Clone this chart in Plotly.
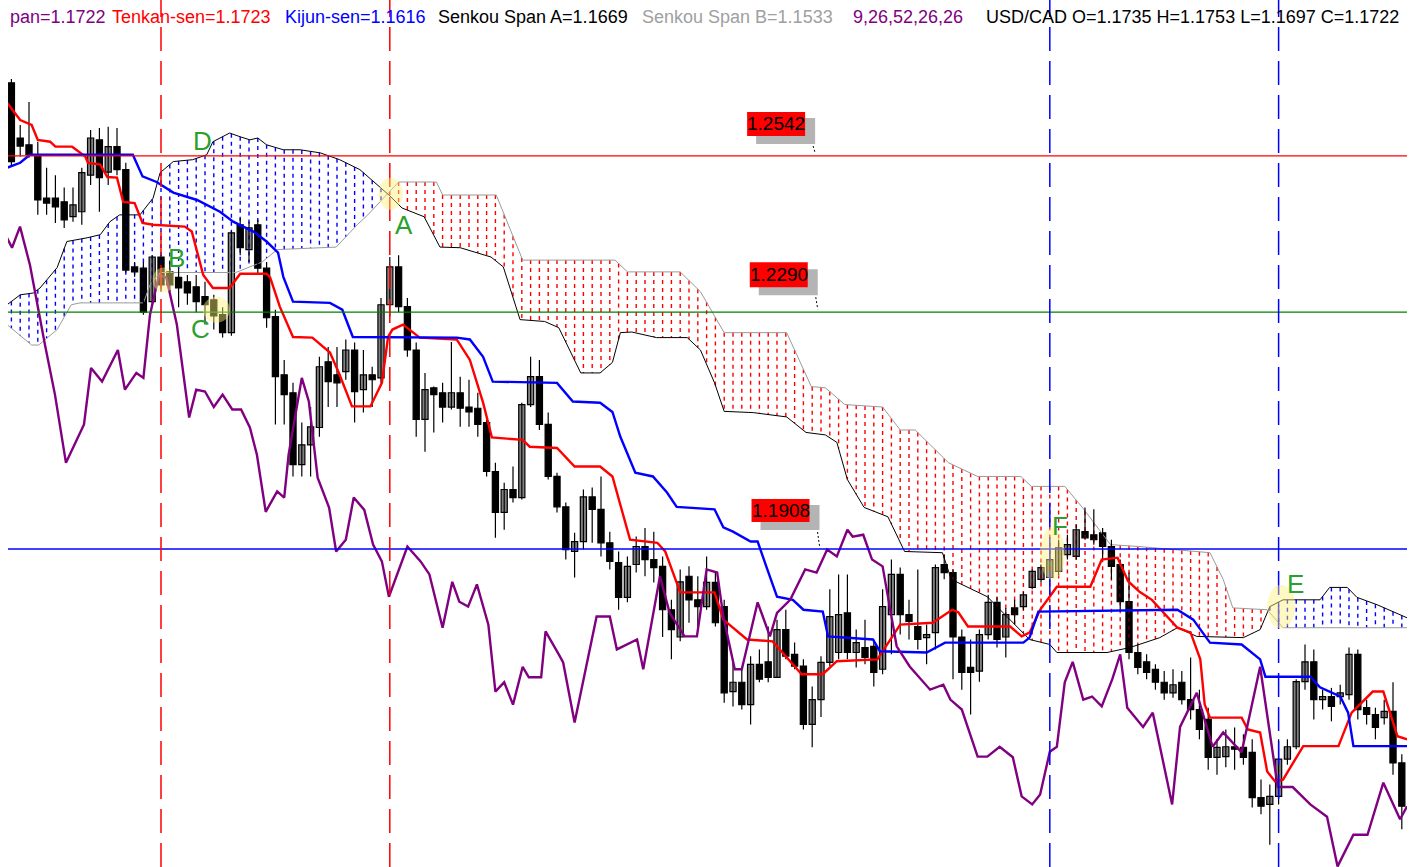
import numpy as np
import plotly.graph_objects as go

# ---------------- data ----------------
bars = list(range(159))

opens = [1.2660, 1.2571, 1.2560, 1.2544, 1.2474, 1.2474, 1.2468, 1.2444, 1.2452, 1.2511,
         1.2568, 1.2516, 1.2557, 1.2520, 1.2363, 1.2361, 1.2307, 1.2379, 1.2355, 1.2346,
         1.2339, 1.2331, 1.2315, 1.2310, 1.2286, 1.2257, 1.2431, 1.2391, 1.2431, 1.2361,
         1.2283, 1.2189, 1.2160, 1.2044, 1.2076, 1.2104, 1.2210, 1.2189, 1.2194, 1.2229,
         1.2165, 1.2189, 1.2184, 1.2302, 1.2363, 1.2299, 1.2229, 1.2117, 1.2168, 1.2160,
         1.2137, 1.2160, 1.2137, 1.2135, 1.2112, 1.2033, 1.1967, 1.2004, 1.1991, 1.2141,
         1.2186, 1.2109, 1.2025, 1.1976, 1.1904, 1.1920, 1.1992, 1.1972, 1.1918, 1.1886,
         1.1830, 1.1883, 1.1912, 1.1891, 1.1880, 1.1810, 1.1766, 1.1864, 1.1826, 1.1815,
         1.1854, 1.1815, 1.1678, 1.1693, 1.1657, 1.1722, 1.1726, 1.1701, 1.1778, 1.1738,
         1.1719, 1.1625, 1.1665, 1.1725, 1.1741, 1.1805, 1.1741, 1.1749, 1.1751, 1.1714,
         1.1802, 1.1867, 1.1802, 1.1783, 1.1765, 1.1773, 1.1883, 1.1870, 1.1766, 1.1717,
         1.1711, 1.1770, 1.1822, 1.1766, 1.1813, 1.1815, 1.1846, 1.1859, 1.1862, 1.1872,
         1.1899, 1.1896, 1.1936, 1.1931, 1.1934, 1.1912, 1.1883, 1.1823, 1.1741, 1.1726,
         1.1714, 1.1693, 1.1676, 1.1693, 1.1665, 1.1649, 1.1633, 1.1572, 1.1573, 1.1589,
         1.1588, 1.1580, 1.1507, 1.1496, 1.1509, 1.1569, 1.1589, 1.1694, 1.1726, 1.1665,
         1.1670, 1.1670, 1.1673, 1.1738, 1.1652, 1.1641, 1.1636, 1.1646, 1.1563]

highs = [1.2666, 1.2592, 1.2629, 1.2565, 1.2523, 1.2511, 1.2491, 1.2491, 1.2523, 1.2584,
         1.2587, 1.2589, 1.2587, 1.2531, 1.2371, 1.2371, 1.2382, 1.2382, 1.2371, 1.2361,
         1.2350, 1.2350, 1.2339, 1.2318, 1.2298, 1.2421, 1.2442, 1.2436, 1.2439, 1.2371,
         1.2294, 1.2213, 1.2176, 1.2112, 1.2137, 1.2218, 1.2234, 1.2234, 1.2246, 1.2241,
         1.2229, 1.2202, 1.2313, 1.2379, 1.2382, 1.2313, 1.2241, 1.2192, 1.2170, 1.2176,
         1.2242, 1.2186, 1.2181, 1.2160, 1.2117, 1.2047, 1.2015, 1.2041, 1.2144, 1.2218,
         1.2213, 1.2128, 1.2031, 1.1983, 1.1934, 1.2004, 1.2007, 1.2025, 1.1936, 1.1904,
         1.1896, 1.1928, 1.1942, 1.1936, 1.1896, 1.1826, 1.1875, 1.1880, 1.1864, 1.1896,
         1.1870, 1.1826, 1.1725, 1.1714, 1.1735, 1.1746, 1.1783, 1.1794, 1.1810, 1.1757,
         1.1730, 1.1686, 1.1735, 1.1843, 1.1867, 1.1867, 1.1778, 1.1794, 1.1762, 1.1843,
         1.1891, 1.1878, 1.1826, 1.1875, 1.1786, 1.1883, 1.1899, 1.1875, 1.1778, 1.1762,
         1.1778, 1.1834, 1.1830, 1.1813, 1.1826, 1.1839, 1.1875, 1.1883, 1.1907, 1.1923,
         1.1931, 1.1947, 1.1975, 1.1972, 1.1942, 1.1923, 1.1891, 1.1870, 1.1754, 1.1738,
         1.1722, 1.1711, 1.1714, 1.1711, 1.1733, 1.1681, 1.1652, 1.1601, 1.1617, 1.1620,
         1.1609, 1.1601, 1.1536, 1.1528, 1.1601, 1.1601, 1.1698, 1.1754, 1.1746, 1.1681,
         1.1684, 1.1689, 1.1749, 1.1746, 1.1665, 1.1652, 1.1665, 1.1693, 1.1577]

lows = [1.2526, 1.2541, 1.2539, 1.2447, 1.2447, 1.2434, 1.2426, 1.2436, 1.2431, 1.2495,
        1.2452, 1.2495, 1.2511, 1.2354, 1.2347, 1.2286, 1.2299, 1.2323, 1.2323, 1.2298,
        1.2302, 1.2290, 1.2270, 1.2262, 1.2249, 1.2252, 1.2382, 1.2371, 1.2350, 1.2265,
        1.2109, 1.2109, 1.2025, 1.2025, 1.2025, 1.2089, 1.2137, 1.2137, 1.2181, 1.2112,
        1.2128, 1.2137, 1.2176, 1.2283, 1.2290, 1.2218, 1.2089, 1.2065, 1.2096, 1.2112,
        1.2133, 1.2105, 1.2105, 1.2089, 1.2025, 1.1926, 1.1939, 1.1983, 1.1988, 1.2137,
        1.2100, 1.2020, 1.1967, 1.1891, 1.1862, 1.1907, 1.1918, 1.1896, 1.1875, 1.1810,
        1.1822, 1.1870, 1.1864, 1.1854, 1.1766, 1.1730, 1.1759, 1.1789, 1.1778, 1.1810,
        1.1783, 1.1660, 1.1654, 1.1649, 1.1625, 1.1693, 1.1693, 1.1700, 1.1730, 1.1714,
        1.1617, 1.1588, 1.1637, 1.1719, 1.1730, 1.1730, 1.1717, 1.1722, 1.1686, 1.1706,
        1.1738, 1.1770, 1.1762, 1.1746, 1.1722, 1.1746, 1.1859, 1.1698, 1.1681, 1.1641,
        1.1694, 1.1762, 1.1749, 1.1733, 1.1786, 1.1810, 1.1843, 1.1854, 1.1855, 1.1866,
        1.1891, 1.1891, 1.1923, 1.1915, 1.1891, 1.1859, 1.1807, 1.1730, 1.1706, 1.1698,
        1.1681, 1.1665, 1.1668, 1.1657, 1.1633, 1.1601, 1.1552, 1.1544, 1.1556, 1.1552,
        1.1560, 1.1491, 1.1480, 1.1431, 1.1496, 1.1560, 1.1585, 1.1681, 1.1633, 1.1649,
        1.1630, 1.1657, 1.1665, 1.1633, 1.1625, 1.1601, 1.1625, 1.1544, 1.1456]

closes = [1.2533, 1.2558, 1.2544, 1.2471, 1.2466, 1.2460, 1.2439, 1.2463, 1.2515, 1.2571,
          1.2507, 1.2557, 1.2520, 1.2358, 1.2355, 1.2290, 1.2379, 1.2334, 1.2334, 1.2329,
          1.2321, 1.2307, 1.2302, 1.2284, 1.2257, 1.2418, 1.2394, 1.2426, 1.2361, 1.2281,
          1.2186, 1.2157, 1.2044, 1.2076, 1.2105, 1.2202, 1.2178, 1.2176, 1.2229, 1.2162,
          1.2189, 1.2181, 1.2302, 1.2363, 1.2299, 1.2229, 1.2117, 1.2165, 1.2157, 1.2137,
          1.2160, 1.2135, 1.2129, 1.2109, 1.2033, 1.1967, 1.2004, 1.1991, 1.2141, 1.2186,
          1.2109, 1.2025, 1.1976, 1.1907, 1.1920, 1.1992, 1.1972, 1.1918, 1.1888, 1.1830,
          1.1880, 1.1912, 1.1891, 1.1878, 1.1810, 1.1778, 1.1855, 1.1826, 1.1815, 1.1854,
          1.1789, 1.1676, 1.1693, 1.1657, 1.1722, 1.1698, 1.1701, 1.1778, 1.1735, 1.1719,
          1.1625, 1.1665, 1.1725, 1.1799, 1.1802, 1.1741, 1.1757, 1.1733, 1.1709, 1.1815,
          1.1867, 1.1802, 1.1791, 1.1762, 1.1770, 1.1878, 1.1870, 1.1766, 1.1709, 1.1709,
          1.1770, 1.1822, 1.1762, 1.1802, 1.1802, 1.1834, 1.1872, 1.1878, 1.1891, 1.1910,
          1.1915, 1.1939, 1.1926, 1.1923, 1.1912, 1.1880, 1.1823, 1.1741, 1.1717, 1.1709,
          1.1693, 1.1676, 1.1689, 1.1665, 1.1649, 1.1617, 1.1572, 1.1588, 1.1589, 1.1585,
          1.1572, 1.1507, 1.1493, 1.1509, 1.1569, 1.1589, 1.1694, 1.1726, 1.1665, 1.1670,
          1.1654, 1.1676, 1.1738, 1.1649, 1.1641, 1.1620, 1.1646, 1.1563, 1.1493]

tenkan_x = [-0.5, 1.0, 2.3, 3.0, 4.4, 5.0, 6.9, 8.4, 8.7, 10.1, 10.9, 12.0, 12.7, 14.0, 14.9,
            16.1, 19.7, 20.5, 21.8, 22.9, 24.8, 26.0, 29.0, 29.4, 30.5, 32.0, 34.2, 36.2, 37.3,
            38.7, 40.8, 42.1, 42.8, 43.3, 44.5, 46.4, 50.6, 52.1, 53.6, 54.6, 58.1, 58.9, 62.0,
            64.0, 66.9, 68.3, 70.3, 73.4, 74.3, 76.0, 79.9, 80.9, 83.6, 86.5, 89.8, 92.2, 93.8,
            98.4, 101.0, 104.7, 106.9, 107.6, 108.7, 113.5, 114.8, 115.7, 116.9, 118.8, 122.6,
            123.9, 125.7, 126.9, 128.2, 129.6, 132.5, 134.0, 135.1, 135.6, 136.2, 139.8, 140.5,
            141.9, 142.7, 143.6, 144.5, 146.8, 150.8, 152.3, 154.7, 155.9, 157.5, 158.6]
tenkan_y = [1.2628, 1.2600, 1.2592, 1.2568, 1.2565, 1.2557, 1.2557, 1.2541, 1.2531, 1.2528,
            1.2508, 1.2507, 1.2468, 1.2466, 1.2434, 1.2431, 1.2428, 1.2420, 1.2350, 1.2329,
            1.2329, 1.2352, 1.2352, 1.2346, 1.2299, 1.2250, 1.2249, 1.2225, 1.2189, 1.2138,
            1.2138, 1.2176, 1.2250, 1.2262, 1.2270, 1.2249, 1.2246, 1.2213, 1.2144, 1.2088,
            1.2084, 1.2073, 1.2071, 1.2041, 1.2041, 1.2025, 1.1923, 1.1918, 1.1904, 1.1838,
            1.1838, 1.1794, 1.1762, 1.1759, 1.1706, 1.1706, 1.1727, 1.1730, 1.1786, 1.1789,
            1.1810, 1.1806, 1.1783, 1.1783, 1.1767, 1.1773, 1.1810, 1.1847, 1.1847, 1.1891,
            1.1894, 1.1856, 1.1839, 1.1826, 1.1781, 1.1773, 1.1730, 1.1657, 1.1636, 1.1636,
            1.1617, 1.1612, 1.1549, 1.1533, 1.1536, 1.1590, 1.1590, 1.1644, 1.1678, 1.1678,
            1.1606, 1.1601]

kijun_x = [-0.5, 1.0, 2.1, 13.8, 14.9, 16.5, 18.4, 21.1, 23.7, 25.2,
           27.5, 29.0, 30.3, 30.9, 32.0, 36.2, 37.6, 38.8, 50.6, 52.1,
           53.6, 54.7, 62.0, 63.8, 66.9, 68.3, 69.2, 70.9, 72.9, 74.5,
           75.6, 79.9, 80.9, 82.0, 84.0, 84.8, 85.9, 87.0, 88.8, 90.0,
           92.2, 92.8, 97.9, 98.7, 104.0, 106.1, 115.0, 115.7, 116.7, 132.5,
           134.3, 136.2, 139.8, 141.9, 142.5, 147.6, 148.7, 151.0, 151.9, 152.5, 158.6]
kijun_y = [1.2523, 1.2531, 1.2544, 1.2544, 1.2509, 1.2500, 1.2483, 1.2471, 1.2452, 1.2436,
           1.2420, 1.2404, 1.2386, 1.2347, 1.2307, 1.2305, 1.2294, 1.2250, 1.2249, 1.2246,
           1.2218, 1.2178, 1.2176, 1.2146, 1.2144, 1.2129, 1.2089, 1.2031, 1.2025, 1.1999,
           1.1976, 1.1972, 1.1943, 1.1936, 1.1920, 1.1920, 1.1875, 1.1831, 1.1826, 1.1810,
           1.1807, 1.1767, 1.1762, 1.1743, 1.1741, 1.1757, 1.1757, 1.1765, 1.1807, 1.1810,
           1.1794, 1.1757, 1.1754, 1.1730, 1.1702, 1.1702, 1.1685, 1.1670, 1.1644, 1.1590, 1.1590]

chikou_x = [-0.5, 0.07, 0.98, 2.11, 3.82, 4.95, 6.2, 8.25, 9.05, 10.3,
            12.1, 12.9, 14.2, 15.0, 15.75, 16.77, 17.6, 18.8, 20.2, 21.0,
            22.0, 23.0, 24.0, 25.1, 26.1, 27.1, 27.9, 28.9, 30.2, 31.0,
            31.5, 33.0, 33.8, 34.8, 36.1, 36.9, 38.0, 38.9, 40.1, 41.1,
            42.1, 42.9, 45.0, 46.5, 47.5, 49.0, 50.1, 50.9, 51.9, 52.9,
            54.2, 55.0, 56.0, 57.0, 58.1, 58.8, 60.2, 60.7, 62.2, 62.7,
            64.0, 66.5, 68.0, 68.8, 71.1, 71.8, 73.7, 74.8, 76.5, 77.9,
            79.0, 80.2, 80.9, 82.2, 83.0, 84.8, 86.2, 87.0, 88.5, 90.2,
            91.5, 92.7, 93.8, 95.0, 95.6, 96.8, 97.8, 99.0, 100.6, 102.1,
            104.4, 105.9, 106.7, 108.0, 109.8, 110.9, 112.3, 113.8, 114.8, 116.0,
            116.9, 118.0, 118.8, 119.7, 120.6, 121.8, 122.8, 123.9, 125.1, 126.0,
            126.8, 128.6, 129.7, 131.9, 132.8, 134.7, 136.5, 137.7, 139.8, 141.9,
            143.9, 145.6, 147.6, 149.5, 150.7, 152.5, 154.1, 155.9, 157.8, 158.6]
chikou_y = [1.2410, 1.2394, 1.2428, 1.2366, 1.2237, 1.2157, 1.2047, 1.2109, 1.2200, 1.2178,
            1.2229, 1.2165, 1.2192, 1.2184, 1.2286, 1.2350, 1.2346, 1.2270, 1.2120, 1.2165,
            1.2162, 1.2137, 1.2157, 1.2133, 1.2133, 1.2104, 1.2060, 1.1968, 1.2001, 1.1991,
            1.2060, 1.2184, 1.2146, 1.2023, 1.1975, 1.1904, 1.1923, 1.1991, 1.1971, 1.1915,
            1.1888, 1.1831, 1.1912, 1.1888, 1.1867, 1.1781, 1.1855, 1.1823, 1.1815, 1.1851,
            1.1786, 1.1678, 1.1693, 1.1657, 1.1718, 1.1701, 1.1701, 1.1775, 1.1738, 1.1725,
            1.1628, 1.1799, 1.1799, 1.1746, 1.1762, 1.1714, 1.1864, 1.1805, 1.1767, 1.1767,
            1.1875, 1.1870, 1.1799, 1.1714, 1.1714, 1.1822, 1.1767, 1.1805, 1.1826, 1.1875,
            1.1870, 1.1907, 1.1896, 1.1939, 1.1928, 1.1931, 1.1891, 1.1880, 1.1751, 1.1718,
            1.1681, 1.1689, 1.1665, 1.1649, 1.1573, 1.1573, 1.1589, 1.1572, 1.1509, 1.1496,
            1.1512, 1.1581, 1.1589, 1.1693, 1.1726, 1.1665, 1.1670, 1.1654, 1.1698, 1.1738,
            1.1652, 1.1621, 1.1644, 1.1496, 1.1621, 1.1676, 1.1589, 1.1612, 1.1580, 1.1718,
            1.1524, 1.1524, 1.1496, 1.1476, 1.1396, 1.1447, 1.1447, 1.1531, 1.1472, 1.1493]

span_a_x = [-0.5, 1.0, 2.5, 3.25, 5.2, 6.3, 8.6, 10.1, 11.2, 12.3,
            14.6, 16.1, 16.9, 18.4, 20.6, 22.2, 22.9, 24.8, 26.0, 27.1,
            28.0, 29.0, 30.9, 32.8, 35.1, 37.3, 39.6, 41.0, 41.9, 42.9,
            44.4, 46.9, 48.7, 51.0, 54.5, 55.9, 57.8, 60.6, 62.2, 64.7,
            66.9, 68.3, 69.2, 70.5, 73.3, 76.8, 78.3, 79.9, 81.0, 84.3,
            88.1, 90.3, 92.5, 93.8, 95.0, 96.9, 99.6, 101.5, 105.8, 106.8,
            110.9, 115.7, 118.0, 118.8, 124.5, 127.1, 130.5, 132.5, 134.7, 140.0,
            141.9, 143.0, 144.5, 148.7, 149.8, 151.8, 152.9, 155.2, 158.6]
span_a_y = [1.2302, 1.2318, 1.2321, 1.2329, 1.2362, 1.2404, 1.2410, 1.2415, 1.2436, 1.2447,
            1.2447, 1.2474, 1.2515, 1.2533, 1.2536, 1.2544, 1.2565, 1.2579, 1.2573, 1.2568,
            1.2571, 1.2560, 1.2552, 1.2552, 1.2547, 1.2536, 1.2520, 1.2503, 1.2491, 1.2479,
            1.2458, 1.2444, 1.2395, 1.2394, 1.2379, 1.2363, 1.2278, 1.2275, 1.2265, 1.2192,
            1.2192, 1.2209, 1.2257, 1.2258, 1.2249, 1.2249, 1.2229, 1.2176, 1.2130, 1.2128,
            1.2121, 1.2096, 1.2092, 1.2080, 1.2020, 1.1975, 1.1960, 1.1904, 1.1902, 1.1859,
            1.1831, 1.1762, 1.1754, 1.1741, 1.1741, 1.1749, 1.1765, 1.1781, 1.1767, 1.1765,
            1.1778, 1.1815, 1.1826, 1.1826, 1.1846, 1.1846, 1.1830, 1.1818, 1.1797]

span_b_x = [-0.5, 2.3, 3.1, 5.2, 6.8, 7.8, 15.0, 15.75, 16.9, 25.5,
            28.5, 30.2, 36.9, 39.3, 40.5, 41.9, 42.9, 44.0, 48.3, 49.0,
            55.1, 58.1, 68.6, 70.0, 76.0, 78.3, 81.0, 88.1, 90.9, 92.5,
            94.7, 99.0, 101.0, 102.7, 106.5, 109.8, 114.7, 115.9, 119.7, 121.7,
            124.9, 128.1, 136.2, 137.7, 138.8, 142.7, 144.5, 158.6]
span_b_y = [1.2270, 1.2237, 1.2237, 1.2262, 1.2302, 1.2305, 1.2305, 1.2334, 1.2354, 1.2354,
            1.2371, 1.2391, 1.2395, 1.2431, 1.2447, 1.2468, 1.2484, 1.2500, 1.2500, 1.2479,
            1.2479, 1.2374, 1.2374, 1.2355, 1.2355, 1.2323, 1.2257, 1.2257, 1.2170, 1.2168,
            1.2141, 1.2137, 1.2100, 1.2100, 1.2047, 1.2025, 1.2025, 1.2009, 1.2009, 1.1975,
            1.1915, 1.1912, 1.1902, 1.1859, 1.1813, 1.1810, 1.1781, 1.1781]

levels = [1.2542, 1.2290, 1.1908]
level_colors = ["#ff0000", "#008000", "#0000ff"]
level_label_bar = [86.9, 87.2, 87.4]

red_marker_bars = [17, 43]
blue_marker_bars = [118, 144]

point_labels = ["A", "B", "C", "D", "E", "F"]
point_label_x = [44.6, 18.8, 21.5, 21.7, 145.9, 119.2]
point_label_y = [1.2431, 1.2377, 1.2263, 1.2566, 1.1852, 1.1945]

highlight_x = [43.1, 17.3, 23.3, 144.3, 118.3]
highlight_y = [1.2481, 1.2342, 1.2294, 1.1815, 1.1900]
highlight_w = [24, 22, 27, 28, 25]
highlight_h = [32, 25, 26, 44, 52]

header_parts = ["pan=1.1722", "Tenkan-sen=1.1723", "Kijun-sen=1.1616",
                "Senkou Span A=1.1669", "Senkou Span B=1.1533", "9,26,52,26,26",
                "USD/CAD O=1.1735 H=1.1753 L=1.1697 C=1.1722"]
header_colors = ["#800080", "#ff0000", "#0000ff", "#000000", "#a0a0a0", "#800080", "#000000"]
header_pos = [0.0, 0.0729, 0.1966, 0.3059, 0.4518, 0.6026, 0.6976]

# ---------------- figure ----------------
FONT = "Liberation Sans, Arial, sans-serif"
fig = go.Figure()

# cloud hatch (vertical dashed strokes at each bar between the spans)
hb_x, hb_y, hr_x, hr_y = [], [], [], []
for b in bars:
    a = float(np.interp(b, span_a_x, span_a_y))
    s = float(np.interp(b, span_b_x, span_b_y))
    top, bot = max(a, s), min(a, s)
    if a > s:
        hb_x += [b, b, None]; hb_y += [top, bot, None]
    else:
        hr_x += [b, b, None]; hr_y += [top, bot, None]

fig.add_trace(go.Scatter(x=hb_x, y=hb_y, mode="lines", hoverinfo="skip",
                         line=dict(color="#0000ff", width=1.4, dash="4px,4px")))
fig.add_trace(go.Scatter(x=hr_x, y=hr_y, mode="lines", hoverinfo="skip",
                         line=dict(color="#ff0000", width=1.4, dash="4px,4px")))

fig.add_trace(go.Scatter(x=span_b_x, y=span_b_y, mode="lines", name="Senkou Span B",
                         line=dict(color="#9a9a9a", width=1)))
fig.add_trace(go.Scatter(x=span_a_x, y=span_a_y, mode="lines", name="Senkou Span A",
                         line=dict(color="#000000", width=1)))

# candles: wicks then bodies
wx, wy = [], []
for i, h, l in zip(bars, highs, lows):
    wx += [i, i, None]; wy += [l, h, None]
fig.add_trace(go.Scatter(x=wx, y=wy, mode="lines", hoverinfo="skip",
                         line=dict(color="#000000", width=1.2)))

base = [min(o, c) for o, c in zip(opens, closes)]
height = [max(abs(c - o), 0.00005) for o, c in zip(opens, closes)]
colors = ["#808080" if c >= o else "#000000" for o, c in zip(opens, closes)]
fig.add_trace(go.Bar(x=bars, y=height, base=base, width=0.7,
                     marker=dict(color=colors, line=dict(color="#000000", width=1.2))))

fig.add_trace(go.Scatter(x=tenkan_x, y=tenkan_y, mode="lines", name="Tenkan-sen",
                         line=dict(color="#ff0000", width=2.4)))
fig.add_trace(go.Scatter(x=kijun_x, y=kijun_y, mode="lines", name="Kijun-sen",
                         line=dict(color="#0000ff", width=2.4)))
fig.add_trace(go.Scatter(x=chikou_x, y=chikou_y, mode="lines", name="Chinkou Span",
                         line=dict(color="#800080", width=2.4)))

# horizontal level lines
for lv, col in zip(levels, level_colors):
    fig.add_shape(type="line", xref="paper", x0=0, x1=1, yref="y", y0=lv, y1=lv,
                  line=dict(color=col, width=1.3), layer="above")

# vertical dashed marker lines
for b in red_marker_bars:
    fig.add_shape(type="line", xref="x", x0=b, x1=b, yref="paper", y0=0, y1=1,
                  line=dict(color="#ff0000", width=1.5, dash="24px,10px"), layer="above")
for b in blue_marker_bars:
    fig.add_shape(type="line", xref="x", x0=b, x1=b, yref="paper", y0=0, y1=1,
                  line=dict(color="#0000ff", width=1.5, dash="24px,10px"), layer="above")

# highlight circles
for hx, hy, w, h in zip(highlight_x, highlight_y, highlight_w, highlight_h):
    fig.add_shape(type="circle", xref="x", yref="y", xsizemode="pixel", ysizemode="pixel",
                  xanchor=hx, yanchor=hy, x0=-w / 2, x1=w / 2, y0=-h / 2, y1=h / 2,
                  fillcolor="rgba(252,240,120,0.45)", line=dict(width=0), layer="above")

# level price labels: gray shadow box, red box, black text
box_bottom = [20, 25, 27]
box_top = [44, 50, 50]
shadow_bottom = [12, 17, 19]
shadow_top = [38, 43, 44]
for lv, bx, bb, bt, sb, st in zip(levels, level_label_bar, box_bottom, box_top,
                                  shadow_bottom, shadow_top):
    fig.add_shape(type="rect", xref="x", yref="y", xsizemode="pixel", ysizemode="pixel",
                  xanchor=bx, yanchor=lv, x0=-20, x1=39, y0=sb, y1=st,
                  fillcolor="#b4b4b4", line=dict(width=0), layer="above")
    fig.add_shape(type="rect", xref="x", yref="y", xsizemode="pixel", ysizemode="pixel",
                  xanchor=bx, yanchor=lv, x0=-29, x1=29, y0=bb, y1=bt,
                  fillcolor="#ff0000", line=dict(width=0), layer="above")
    fig.add_annotation(x=bx, y=lv, xref="x", yref="y", text=f"{lv:.4f}", showarrow=False,
                       yshift=(bb + bt) / 2,
                       font=dict(family=FONT, size=19, color="#000000"))
    fig.add_shape(type="line", xref="x", yref="y", xsizemode="pixel", ysizemode="pixel",
                  xanchor=bx, yanchor=lv, x0=37, x1=39, y0=sb - 2, y1=3,
                  line=dict(color="#000000", width=1, dash="2px,2px"), layer="above")

# point letters
for t, px, py in zip(point_labels, point_label_x, point_label_y):
    fig.add_annotation(x=px, y=py, xref="x", yref="y", text=t, showarrow=False,
                       font=dict(family=FONT, size=26, color="#2ca02c"))

# header line
for t, col, pos in zip(header_parts, header_colors, header_pos):
    fig.add_annotation(x=pos, y=1, xref="paper", yref="paper", text=t, showarrow=False,
                       xanchor="left", yanchor="middle", yshift=-17,
                       font=dict(family=FONT, size=18, color=col))

fig.update_layout(
    width=1424, height=867,
    margin=dict(l=8, r=17, t=0, b=0),
    paper_bgcolor="white", plot_bgcolor="white",
    showlegend=False, barmode="overlay",
    xaxis=dict(range=[-0.386, 158.59], visible=False, showgrid=False, zeroline=False),
    yaxis=dict(range=[1.13950, 1.27936], visible=False, showgrid=False, zeroline=False),
)

fig.write_html("out.html",
               config={"displayModeBar": False},
               post_script="document.body.style.margin='0';document.body.style.padding='0';"
                           "document.documentElement.style.overflow='hidden';")
